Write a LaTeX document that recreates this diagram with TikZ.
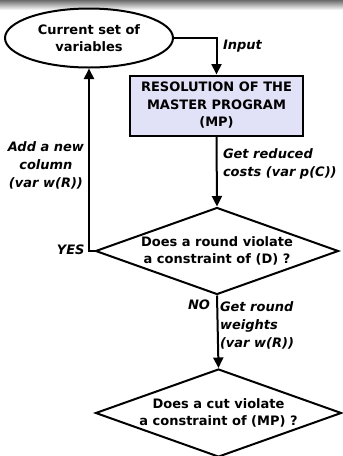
\documentclass[tikz,border=0pt]{standalone}
\usepackage{fontspec}
\setmainfont{DejaVu Sans}
\usetikzlibrary{shapes.geometric,arrows.meta}
\definecolor{boxfill}{RGB}{225,225,248}

\begin{document}
\begin{tikzpicture}[x=1pt,y=-1pt,
  line width=2pt,
  font=\fontsize{13}{17.5}\selectfont\bfseries,
  arr/.style={-{Triangle[length=10.5pt,width=10pt]}},
  lbl/.style={font=\fontsize{13}{18}\selectfont\bfseries\itshape, inner sep=0pt, align=left},
  decision/.style={diamond, draw, inner sep=0pt, minimum width=#1, minimum height=87pt},
  intext/.style={inner sep=0pt, align=center}]
  \useasboundingbox (0,0) rectangle (343,456);
  % shaded band along the top edge
  \shade[top color=black!58, bottom color=white, draw=none] (0,0) rectangle (343,10);

  % nodes
  \node[ellipse, draw, minimum width=168pt, minimum height=59pt, inner sep=0pt] (vars) at (89,38) {};
  \node[intext] at (vars.center) {Current set of\\variables};

  \node[draw, fill=boxfill, minimum width=173pt, minimum height=60pt, inner sep=0pt, align=center] (mp) at (216.5,105.5)
    {RESOLUTION OF THE\\ MASTER PROGRAM\\(MP)};

  \node[decision=243pt] (d1) at (217,251) {};
  \node[intext] at (d1.center) {Does a round violate\\a constraint of (D) ?};

  \node[decision=246pt, minimum height=88pt] (d2) at (218.5,413) {};
  \node[intext] at (d2.center) {Does a cut violate\\a constraint of (MP) ?};

  % connectors
  \draw[arr] (vars.east) -| (mp.north);
  \draw[arr] (mp.south) -- (d1.north);
  \draw[arr] (d1.west) -| (vars.south);
  \draw[arr] (d1.south) -- (d2.north);

  % labels
  \node[lbl, anchor=west] (lin) at (222,46) {Input};
  \node[lbl, anchor=west] (lrc) at (222,164) {Get reduced\\costs (var p(C))};
  \node[lbl, anchor=east, align=center] (lcol) at (85,165) {Add a new\\column\\(var w(R))};
  \node[lbl, anchor=base east] (lyes) at (85.5,254) {YES};
  \node[lbl, anchor=base east] (lno) at (211,309.5) {NO};
  \node[lbl, anchor=west] (lrw) at (219,325) {Get round\\weights\\(var w(R))};
\end{tikzpicture}
\end{document}
